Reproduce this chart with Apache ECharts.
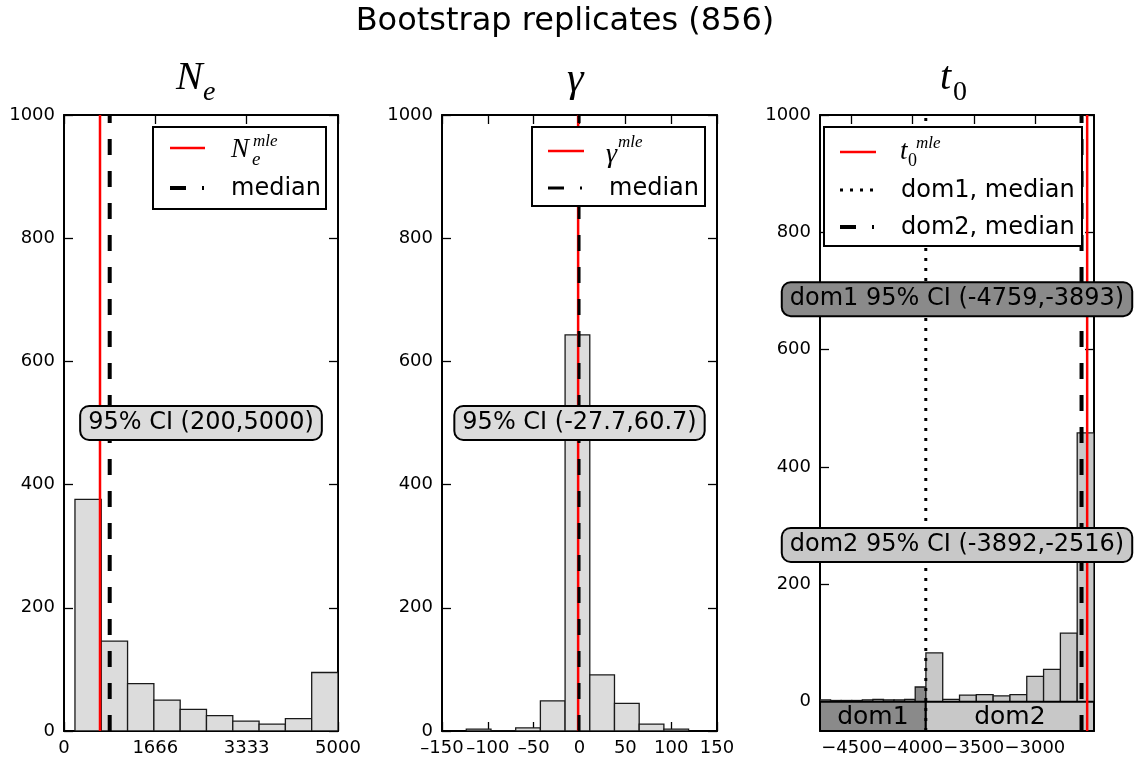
<!DOCTYPE html>
<html><head><meta charset="utf-8">
<script src="https://cdn.jsdelivr.net/npm/echarts@6/dist/echarts.min.js"></script>
<style>html,body{margin:0;padding:0;background:#fff}#c{width:1135px;height:761px}</style>
</head><body><div id="c"></div>
<script>
// ---------- data ----------
const mainTitle = 'Bootstrap replicates (856)';
// N_e panel
const neRange = [200, 5000];
const neCounts = [376, 146, 77, 50, 35, 25, 16, 11, 20, 95];
const neMle = 657;
const neMedian = 834;
const neCI = [200, 5000];
const neTicks = [0, 1666, 3333, 5000];
// gamma panel
const gammaRange = [-123.5, 119];
const gammaCounts = [3, 0, 5, 49, 643, 91, 45, 11, 3];
const gammaMle = -1.5;
const gammaMedian = -0.5;
const gammaCI = [-27.7, 60.7];
const gammaTicks = [-150, -100, -50, 0, 50, 100, 150];
// t0 panel
const t0Extent = [-4759, -2516];
const dom1Range = [-4759, -3893];
const dom1Counts = [3, 2, 2, 2, 3, 4, 3, 3, 4, 25];
const dom2Range = [-3892, -2516];
const dom2Counts = [83, 4, 11, 12, 10, 12, 43, 55, 117, 458];
const domBounds = [-4759, -3893, -2516];
const domNames = ['dom1', 'dom2'];
const t0Mle = -2572;
const dom1Median = -3893;
const dom2Median = -2618;
const dom1CI = [-4759, -3893];
const dom2CI = [-3892, -2516];
const t0Ticks = [-4500, -4000, -3500, -3000];
const countTicks = [0, 200, 400, 600, 800, 1000];
// label anchor heights (count units)
const neLabelY = 500, gammaLabelY = 500, dom1LabelY = 686, dom2LabelY = 267;

// ---------- helpers ----------
function bins(range, counts) {
  const w = (range[1] - range[0]) / counts.length;
  return counts.map((c, i) => [range[0] + i * w, range[0] + (i + 1) * w, c]);
}
function histSeries(gi, data, fill) {
  return {
    type: 'custom', xAxisIndex: gi * 2, yAxisIndex: gi * 2, clip: true, z: 2,
    encode: { x: [0, 1], y: 2 }, data: data, silent: true,
    renderItem: function (params, api) {
      const p0 = api.coord([api.value(0), api.value(2)]);
      const p1 = api.coord([api.value(1), 0]);
      return { type: 'rect', shape: { x: p0[0], y: p0[1], width: p1[0] - p0[0], height: p1[1] - p0[1] },
        style: { fill: fill, stroke: '#1a1a1a', lineWidth: 1.3 } };
    }
  };
}
function vline(gi, x, y0, y1, color, width, dash, z) {
  return { type: 'line', xAxisIndex: gi * 2, yAxisIndex: gi * 2, data: [[x, y0], [x, y1]], showSymbol: false,
    symbol: 'none', silent: true, z: z || 4, animation: false,
    lineStyle: { color: color, width: width, type: dash || 'solid', cap: 'butt' } };
}
function ciLabel(gi, x, y, text, bg) {
  return { type: 'custom', xAxisIndex: gi * 2, yAxisIndex: gi * 2, data: [[x, y]], z: 10, silent: true, clip: false,
    encode: { x: 0, y: 1 },
    renderItem: function (params, api) {
      const p = api.coord([api.value(0), api.value(1)]);
      return { type: 'text', x: p[0], y: p[1],
        style: { text: text, fontFamily: 'DejaVu Sans', fontSize: 24, fill: '#000', align: 'center', verticalAlign: 'middle',
          backgroundColor: bg, borderColor: '#000', borderWidth: 2, borderRadius: 8, padding: [5, 7, 3, 7] } };
    } };
}
const grids = [
  { left: 64, top: 115, width: 274, height: 616 },
  { left: 442, top: 115, width: 275, height: 616 },
  { left: 820, top: 115, width: 274, height: 616 }
];
const xExt = [[0, 5000], [-150, 150], t0Extent];
const yExt = [[0, 1000], [0, 1000], [-50, 1000]];
const xTickVals = [neTicks, gammaTicks, t0Ticks];
const minusSign = ['\u2212', '\u2013', '\u2212'];
const labelFont = { fontFamily: 'DejaVu Sans', fontSize: 18, color: '#000' };
const xAxes = [], yAxes = [];
for (let g = 0; g < 3; g++) {
  ['bottom', 'top'].forEach(function (pos, k) {
    xAxes.push({ type: 'value', gridIndex: g, position: pos, min: xExt[g][0], max: xExt[g][1],
      axisLine: { show: true, onZero: false, lineStyle: { color: '#000', width: 2 } },
      axisTick: { show: true, inside: true, length: 9, customValues: xTickVals[g], lineStyle: { color: '#000', width: 1.3 } },
      splitLine: { show: false },
      axisLabel: Object.assign({ show: k === 0, margin: 10, hideOverlap: false, showMinLabel: true, showMaxLabel: true,
        lineHeight: 14, customValues: xTickVals[g],
        formatter: function (v) { return String(Math.round(v)).replace('-', minusSign[g]); } }, labelFont) });
  });
  ['left', 'right'].forEach(function (pos, k) {
    yAxes.push({ type: 'value', gridIndex: g, position: pos, min: yExt[g][0], max: yExt[g][1],
      axisLine: { show: true, onZero: false, lineStyle: { color: '#000', width: 2 } },
      axisTick: { show: true, inside: true, length: 9, customValues: countTicks, lineStyle: { color: '#000', width: 1.3 } },
      splitLine: { show: false },
      axisLabel: Object.assign({ show: k === 0, margin: 9, hideOverlap: false, showMinLabel: true, showMaxLabel: true,
        lineHeight: 12, customValues: countTicks,
        formatter: function (v) { return String(v); } }, labelFont) });
  });
}

const DASH = [16, 16], DOT = [3, 7];
const series = [
  histSeries(0, bins(neRange, neCounts), '#dcdcdc'),
  vline(0, neMle, 0, 1000, '#ff0000', 2.5),
  vline(0, neMedian, 0, 1000, '#000', 4, DASH),
  ciLabel(0, (neCI[0] + neCI[1]) / 2 - 100, neLabelY, '95% CI (' + neCI[0] + ',' + neCI[1] + ')', '#dcdcdc'),

  histSeries(1, bins(gammaRange, gammaCounts), '#dcdcdc'),
  vline(1, gammaMle, 0, 1000, '#ff0000', 2.5),
  vline(1, gammaMedian, 0, 1000, '#000', 3, DASH),
  ciLabel(1, 0, gammaLabelY, '95% CI (' + gammaCI[0] + ',' + gammaCI[1] + ')', '#dcdcdc'),

  { type: 'custom', xAxisIndex: 4, yAxisIndex: 4, clip: true, z: 3, silent: true,
    data: domNames.map((n, i) => [domBounds[i], domBounds[i + 1], i]), encode: { x: [0, 1] },
    renderItem: function (params, api) {
      const p0 = api.coord([api.value(0), 0]);
      const p1 = api.coord([api.value(1), -50]);
      const i = api.value(2);
      return { type: 'rect', shape: { x: p0[0], y: p0[1], width: p1[0] - p0[0], height: p1[1] - p0[1] },
        style: { fill: i === 0 ? '#8a8a8a' : '#c8c8c8', stroke: '#000', lineWidth: 2 },
        textContent: { style: { text: domNames[i], fontFamily: 'DejaVu Sans', fontSize: 25, fill: '#000' } },
        textConfig: { position: 'inside', offset: [0, 1] } };
    } },
  histSeries(2, bins(dom1Range, dom1Counts), '#8a8a8a'),
  histSeries(2, bins(dom2Range, dom2Counts), '#c8c8c8'),
  vline(2, t0Mle, -50, 1000, '#ff0000', 2.5),
  vline(2, dom1Median, -50, 1000, '#000', 3, DOT),
  vline(2, dom2Median, -50, 1000, '#000', 4, DASH),
  ciLabel(2, (t0Extent[0] + t0Extent[1]) / 2, dom1LabelY, 'dom1 95% CI (' + dom1CI[0] + ',' + dom1CI[1] + ')', '#8a8a8a'),
  ciLabel(2, (t0Extent[0] + t0Extent[1]) / 2, dom2LabelY, 'dom2 95% CI (' + dom2CI[0] + ',' + dom2CI[1] + ')', '#c8c8c8')
];

// ---------- titles & legends (graphic) ----------
const SERIF = 'Liberation Serif';
function txt(x, y, s, size, extra) {
  return { type: 'text', x: x, y: y, z: 100,
    style: Object.assign({ text: s, fontFamily: 'DejaVu Sans', fontSize: size, fill: '#000',
      verticalAlign: 'middle', align: 'left' }, extra || {}) };
}
function it(x, y, s, size, upright) {
  return txt(x, y, s, size, { fontFamily: SERIF, fontStyle: upright ? 'normal' : 'italic' });
}
function ln(x1, y1, x2, y2, color, w, dash) {
  return { type: 'line', z: 100, shape: { x1: x1, y1: y1, x2: x2, y2: y2 },
    style: { stroke: color, lineWidth: w, lineDash: dash || null, lineCap: 'butt' } };
}
function box(x, y, w, h) {
  return { type: 'rect', z: 99, shape: { x: x, y: y, width: w, height: h },
    style: { fill: '#fff', stroke: '#000', lineWidth: 2 } };
}
const graphic = [
  txt(565, 22, mainTitle, 32, { align: 'center' }),
  // panel titles
  it(176, 78, 'N', 40), it(203, 93, 'e', 28),
  it(567, 80, '\u03b3', 42),
  it(940, 78, 't', 40), it(953, 93, '0', 28, true),
  // legend 1
  box(153, 127, 173, 82),
  ln(170, 148, 205, 148, '#ff0000', 2.5),
  it(231, 150, 'N', 27), it(252, 160, 'e', 19), it(253, 142, 'mle', 17),
  ln(170, 188, 186, 188, '#000', 4), ln(202, 188, 204, 188, '#000', 4),
  txt(231, 189, 'median', 24),
  // legend 2
  box(532, 127, 173, 79),
  ln(548, 151, 584, 151, '#ff0000', 2.5),
  it(606, 155, '\u03b3', 28), it(618, 143, 'mle', 17),
  ln(548, 188, 564, 188, '#000', 3), ln(580, 188, 582, 188, '#000', 3),
  txt(609, 189, 'median', 24),
  // legend 3
  box(824, 127, 258, 119),
  ln(840, 152, 876, 152, '#ff0000', 2.5),
  it(900, 152, 't', 27), it(908, 161, '0', 18, true), it(916, 144, 'mle', 17),
  ln(840, 190, 876, 190, '#000', 3, [3, 7]),
  txt(901, 191, 'dom1, median', 24),
  ln(840, 227, 856, 227, '#000', 4), ln(872, 227, 874, 227, '#000', 4),
  txt(901, 228, 'dom2, median', 24)
];

const chart = echarts.init(document.getElementById('c'), null, { renderer: 'canvas' });
chart.setOption({
  animation: false, backgroundColor: '#fff',
  grid: grids, xAxis: xAxes, yAxis: yAxes, series: series, graphic: graphic
});
</script></body></html>
